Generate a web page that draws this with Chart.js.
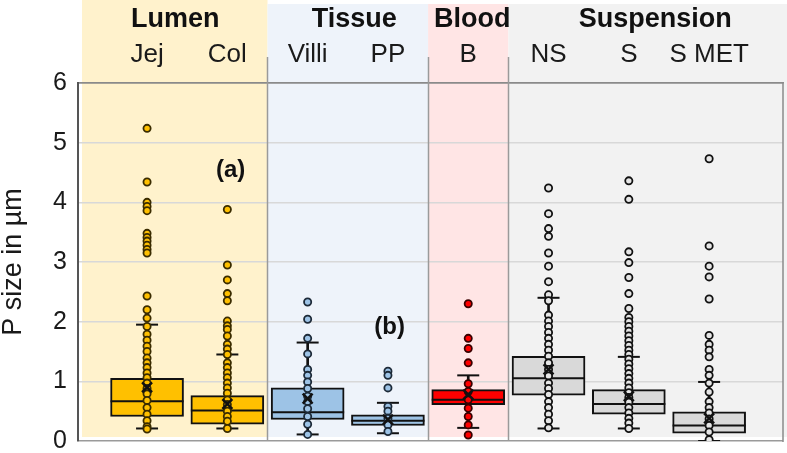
<!DOCTYPE html>
<html><head><meta charset="utf-8">
<script src="https://cdn.jsdelivr.net/npm/chart.js@4"></script>
<style>html,body{margin:0;padding:0;background:#fff}</style>
</head><body>
<canvas id="c" width="787" height="453"></canvas>
<script>
// ---- data ----
const categories = ['Jej','Col','Villi','PP','B','NS','S','S MET'];
const groups = ['Lumen','Tissue','Blood','Suspension'];
const groupOf = [0,0,1,1,2,3,3,3];
const q1 = [0.41,0.28,0.36,0.26,0.61,0.77,0.45,0.13];
const median = [0.665,0.51,0.48,0.34,0.69,1.05,0.62,0.26];
const q3 = [1.05,0.76,0.89,0.44,0.86,1.42,0.86,0.49];
const whiskerLow = [0.21,0.21,0.11,0.13,0.22,0.21,0.21,0.0];
const whiskerHigh = [1.95,1.45,1.65,0.64,1.10,2.40,1.41,0.99];
const means = [0.90,0.62,0.71,0.36,0.78,1.20,0.75,0.38];
const jejPts = [5.24,4.34,4.0,3.93,3.86,3.48,3.41,3.35,3.28,3.21,3.15,2.43,2.2,2.06,1.92,1.79,1.69,1.59,1.5,1.39,1.31,1.23,1.14,1.06,0.97,0.88,0.79,0.68,0.56,0.45,0.34,0.24,0.2];
const colPts = [3.88,2.95,2.7,2.47,2.35,2.01,1.93,1.87,1.76,1.62,1.54,1.45,1.31,1.23,1.14,1.06,0.97,0.89,0.8,0.69,0.61,0.5,0.41,0.33,0.21];
const villiPts = [2.33,2.04,1.72,1.46,1.2,1.1,0.99,0.88,0.75,0.66,0.54,0.41,0.28,0.11];
const ppPts = [1.17,1.1,0.89,0.58,0.5,0.38,0.27,0.16];
const bPts = [2.3,1.72,1.55,1.31,0.96,0.83,0.69,0.55,0.41,0.27,0.1];
const nsPts = [4.24,3.81,3.56,3.43,3.15,2.93,2.67,2.45,2.35,2.11,2.01,1.92,1.82,1.72,1.62,1.52,1.42,1.31,1.2,1.09,0.97,0.88,0.78,0.66,0.56,0.45,0.34,0.22];
const sPts = [4.36,4.05,3.17,2.99,2.74,2.47,2.22,2.07,2.0,1.92,1.84,1.76,1.68,1.6,1.52,1.45,1.37,1.29,1.21,1.13,1.05,0.97,0.89,0.81,0.73,0.65,0.56,0.47,0.38,0.3,0.21];
const smetPts = [4.73,3.27,2.93,2.75,2.38,1.77,1.62,1.52,1.41,1.2,1.1,0.97,0.82,0.66,0.56,0.47,0.37,0.26,0.15,0.02];
const allPts = [jejPts,colPts,villiPts,ppPts,bPts,nsPts,sPts,smetPts];
const yTicks = [0,1,2,3,4,5,6];
const annotations = [{text:'(a)', x:1.04, y:4.54},{text:'(b)', x:3.02, y:1.91}];

// ---- styles / layout ----
const FONT = '"Liberation Sans", Arial, sans-serif';
const groupFill = ['#FFC000','#9DC3E6','#FF0000','#D9D9D9'];
const groupBand = ['#FFF2CC','#EEF3FA','#FFE5E5','#F2F2F2'];
const pointFill = ['#FFC000','#9DC3E6','#FF0000','#E6E6E6'];
const pointBorder = ['#3a2c00','#1d2a38','#3a0000','#111111'];
const groupLabelX = [0.35,2.58,4.05,6.33];
const bandLeft = -0.81;

const bgPlugin = {
  id:'bg',
  beforeDraw(chart){
    const {ctx, chartArea:a, scales:{x}} = chart;
    ctx.save();
    ctx.fillStyle='#fff'; ctx.fillRect(0,0,chart.width,chart.height);
    const bounds=[bandLeft];
    for(let i=1;i<categories.length;i++){ if(groupOf[i]!==groupOf[i-1]) bounds.push(i-0.5); }
    groups.forEach((g,gi)=>{
      const x0 = x.getPixelForValue(bounds[gi]);
      const x1 = gi<groups.length-1 ? x.getPixelForValue(bounds[gi+1]) : chart.width;
      const top = gi===0?0:4;
      ctx.fillStyle=groupBand[gi];
      ctx.fillRect(x0, top, x1-x0, a.bottom-4-top);
    });
    ctx.restore();
  },
  beforeDatasetsDraw(chart){
    const {ctx, chartArea:a, scales:{x}} = chart;
    ctx.save();
    ctx.strokeStyle='#9a9a9a'; ctx.lineWidth=1.5;
    for(let i=1;i<categories.length;i++){
      if(groupOf[i]!==groupOf[i-1]){
        const px = Math.round(x.getPixelForValue(i-0.5))+0.5;
        ctx.beginPath(); ctx.moveTo(px,57); ctx.lineTo(px,a.bottom); ctx.stroke();
      }
    }
    ctx.strokeStyle='#8a8a8a';
    ctx.beginPath(); ctx.moveTo(a.right,a.top); ctx.lineTo(a.right,a.bottom+1); ctx.stroke();
    ctx.restore();
  },
  afterDraw(chart){
    const {ctx, scales:{x,y}} = chart;
    ctx.save();
    ctx.fillStyle='#111';
    ctx.textAlign='center';
    ctx.textBaseline='alphabetic';
    ctx.font='bold 27px '+FONT;
    groups.forEach((g,gi)=>ctx.fillText(g, x.getPixelForValue(groupLabelX[gi]), 27));
    ctx.font='bold 24px '+FONT;
    ctx.textBaseline='middle';
    annotations.forEach(an=>ctx.fillText(an.text, x.getPixelForValue(an.x), y.getPixelForValue(an.y)));
    ctx.restore();
  }
};

const idx = categories.map((c,i)=>i);
const datasets = [
  {type:'bar', label:'whisker', grouped:false, order:6,
   data: idx.map(i=>({x:i, y:[whiskerLow[i], whiskerHigh[i]]})),
   backgroundColor:'#111', borderWidth:0, barThickness:2},
  {type:'bar', label:'box', grouped:false, order:5,
   data: idx.map(i=>({x:i, y:[q1[i], q3[i]]})),
   backgroundColor: idx.map(i=>groupFill[groupOf[i]]),
   borderColor:'#111', borderWidth:2, borderSkipped:false, barThickness:73},
  {type:'scatter', label:'median', order:4,
   data: idx.map(i=>({x:i, y:median[i]})),
   pointStyle:'line', radius:36.5, borderWidth:2, borderColor:'#111'},
  {type:'scatter', label:'caps', order:4,
   data: idx.flatMap(i=>[{x:i,y:whiskerLow[i]},{x:i,y:whiskerHigh[i]}]),
   pointStyle:'line', radius:11, borderWidth:2, borderColor:'#111'},
  {type:'scatter', label:'points', order:2,
   data: idx.flatMap(i=>allPts[i].map(v=>({x:i,y:v}))),
   pointStyle:'circle', radius:3.6, borderWidth:1.8,
   backgroundColor: c=>pointFill[groupOf[c.raw ? c.raw.x : 0]],
   borderColor: c=>pointBorder[groupOf[c.raw ? c.raw.x : 0]]},
  {type:'scatter', label:'mean', order:1,
   data: idx.map(i=>({x:i, y:means[i]})),
   pointStyle:'crossRot', radius:7, borderWidth:2.5, borderColor:'#111'}
];

new Chart(document.getElementById('c'), {
  type:'bar',
  data:{datasets},
  plugins:[bgPlugin],
  options:{
    responsive:false, animation:false, events:[],
    layout:{autoPadding:false, padding:{left:0,right:4,top:0,bottom:12}},
    plugins:{legend:{display:false}, tooltip:{enabled:false}},
    scales:{
      x:{type:'linear', position:'top', min:-0.86, max:7.92, offset:false,
         afterBuildTicks:s=>{s.ticks=idx.map(i=>({value:i}));},
         afterFit:s=>{s.height=83; s.paddingLeft=0; s.paddingRight=0;},
         grid:{display:false, drawTicks:false},
         border:{display:true, color:'#8a8a8a', width:1.5},
         ticks:{autoSkip:false, maxRotation:0, padding:13, color:'#1a1a1a',
                font:{family:FONT, size:26},
                callback:v=>categories[v]}},
      y:{type:'linear', min:0, max:6,
         afterBuildTicks:s=>{s.ticks=yTicks.map(v=>({value:v}));},
         afterFit:s=>{s.width=78; s.paddingTop=0; s.paddingBottom=0;},
         grid:{drawTicks:false, lineWidth:1.5,
               color:c=>c.tick.value===0?'#9a9a9a':(c.tick.value===6?'#8a8a8a':'#d8d8d8')},
         border:{display:true, color:'#555', width:2},
         ticks:{padding:11, color:'#1a1a1a', font:{family:FONT, size:25}},
         title:{display:true, text:'P size in µm', color:'#1a1a1a', padding:{top:0,bottom:0},
                font:{family:FONT, size:27, lineHeight:1}}}
    }
  }
});
</script>
</body></html>
